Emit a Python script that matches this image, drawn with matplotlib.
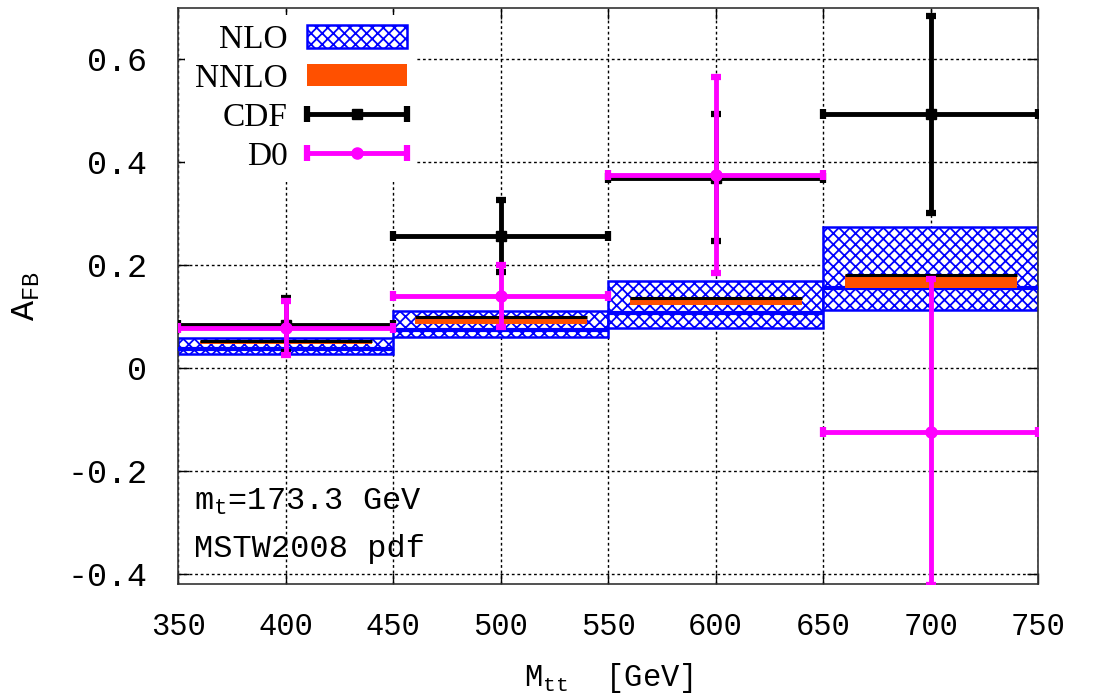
import matplotlib
matplotlib.use("Agg")
import matplotlib.pyplot as plt
import numpy as np
from matplotlib.lines import Line2D
from matplotlib.patches import Patch
from matplotlib.legend_handler import HandlerBase

# ---------------- data ----------------
bin_lo = [350, 450, 550, 650]
bin_hi = [450, 550, 650, 750]
bin_centers = [400, 500, 600, 700]

nlo_lo = [0.027, 0.060, 0.078, 0.112]
nlo_c = [0.037, 0.073, 0.107, 0.156]
nlo_hi = [0.058, 0.111, 0.170, 0.274]

nnlo_lo = [0.046, 0.086, 0.123, 0.156]
nnlo_hi = [0.052, 0.100, 0.137, 0.180]

cdf_val = [0.084, 0.256, 0.370, 0.493]
cdf_err = [0.053, 0.070, 0.123, 0.192]

d0_val = [0.078, 0.140, 0.375, -0.124]
d0_err = [0.052, 0.061, 0.190, 0.297]

xticks = [350, 400, 450, 500, 550, 600, 650, 700, 750]
yticks = [-0.4, -0.2, 0.0, 0.2, 0.4, 0.6]
ytick_labels = ["-0.4", "-0.2", "0", "0.2", "0.4", "0.6"]

# ---------------- style ----------------
MONO = "Liberation Mono"
SERIF = "Liberation Serif"
plt.rcParams["mathtext.fontset"] = "custom"
plt.rcParams["mathtext.rm"] = MONO
plt.rcParams["mathtext.it"] = MONO
plt.rcParams["hatch.linewidth"] = 1.3

BLUE = "#0000ff"
ORANGE = "#ff5000"
MAGENTA = "#ff00ff"

fig = plt.figure(figsize=(10.93, 6.95), dpi=100)
ax = fig.add_axes([0.1629, 0.1597, 0.7868, 0.8288])

widths = [h - l for l, h in zip(bin_lo, bin_hi)]
# NLO band
ax.bar(bin_centers, np.array(nlo_hi) - np.array(nlo_lo), bottom=nlo_lo,
       width=widths, facecolor="white", edgecolor=BLUE, hatch="xxx",
       linewidth=1.8, zorder=2)
ax.hlines(nlo_c, bin_lo, bin_hi, color=BLUE, lw=3.0, zorder=3)

# NNLO band
ax.bar(bin_centers, np.array(nnlo_hi) - np.array(nnlo_lo), bottom=nnlo_lo,
       width=[w - 20 for w in widths], facecolor=ORANGE, edgecolor="none",
       zorder=4)
ax.hlines(nnlo_hi, [l + 10 for l in bin_lo], [h - 10 for h in bin_hi],
          color="black", lw=2.2, zorder=5)

# CDF
xerr = [w / 2 for w in widths]
ax.errorbar(bin_centers, cdf_val, xerr=xerr, yerr=cdf_err, fmt="s",
            color="black", ms=7, lw=3.5, capsize=3.5, capthick=4.5,
            zorder=6, clip_on=True)
# D0
ax.errorbar(bin_centers, d0_val, xerr=xerr, yerr=d0_err, fmt="o",
            color=MAGENTA, ms=8, lw=3.5, capsize=3.5, capthick=4.5,
            zorder=7, clip_on=True)

ax.set_xlim(350, 750)
ax.set_ylim(-0.42, 0.70)
ax.set_xticks(xticks)
ax.set_xticklabels([str(t) for t in xticks], fontfamily=MONO, fontsize=22)
ax.set_yticks(yticks)
ax.set_yticklabels(ytick_labels, fontfamily=MONO, fontsize=24)
ax.tick_params(direction="in", length=8, width=1, top=True, right=True,
               pad=22)
ax.tick_params(axis="x", pad=20)
ax.grid(True, color="black", linestyle=(0, (2, 2)), linewidth=1.0, zorder=0)
ax.set_axisbelow(True)
for s in ax.spines.values():
    s.set_linewidth(1.2)
    s.set_color("#333333")

ax.set_xlabel(r"$\mathrm{M_{tt}}$  [GeV]", fontfamily=MONO, fontsize=22,
              labelpad=14)
ax.set_ylabel(r"$\mathrm{A_{FB}}$", fontfamily=MONO, fontsize=24,
              labelpad=18)

ax.text(0.018, 0.128, r"$\mathrm{m_t}$=173.3 GeV", transform=ax.transAxes,
        fontfamily=MONO, fontsize=23, va="baseline", ha="left", zorder=10)
ax.text(0.018, 0.047, "MSTW2008 pdf", transform=ax.transAxes,
        fontfamily=MONO, fontsize=23, va="baseline", ha="left", zorder=10)


# ---------------- legend ----------------
class ErrHandler(HandlerBase):
    def __init__(self, color, marker, ms):
        super().__init__()
        self.color = color
        self.marker = marker
        self.ms = ms

    def create_artists(self, legend, orig_handle, xdescent, ydescent,
                       width, height, fontsize, trans):
        y = height / 2 - ydescent
        x0, x1 = -xdescent, width - xdescent
        ln = Line2D([x0, x1], [y, y], color=self.color, lw=3.5)
        caps = Line2D([x0, x1], [y, y], ls="none", marker="|",
                      ms=11, mew=4.5, color=self.color)
        mk = Line2D([(x0 + x1) / 2], [y], ls="none", marker=self.marker,
                    ms=self.ms, color=self.color)
        for a in (ln, caps, mk):
            a.set_transform(trans)
        return [ln, caps, mk]


h_nlo = Patch(facecolor="white", edgecolor=BLUE, hatch="xxx", linewidth=1.8)
h_nnlo = Patch(facecolor=ORANGE, edgecolor="none")
h_cdf = Line2D([], [])
h_d0 = Line2D([], [])
leg = ax.legend([h_nlo, h_nnlo, h_cdf, h_d0], ["NLO", "NNLO", "CDF", "D0"],
                handler_map={h_cdf: ErrHandler("black", "s", 7),
                             h_d0: ErrHandler(MAGENTA, "o", 8)},
                loc="upper left", bbox_to_anchor=(0.0, 1.0),
                markerfirst=False, frameon=True, fancybox=False,
                edgecolor="none", facecolor="white", framealpha=1.0,
                prop={"family": SERIF, "size": 24}, handlelength=3.0,
                handleheight=0.65, labelspacing=0.25, handletextpad=0.6,
                borderaxespad=0.2, borderpad=0.3)
leg.set_zorder(20)

fig.savefig("out.png", dpi=100)
